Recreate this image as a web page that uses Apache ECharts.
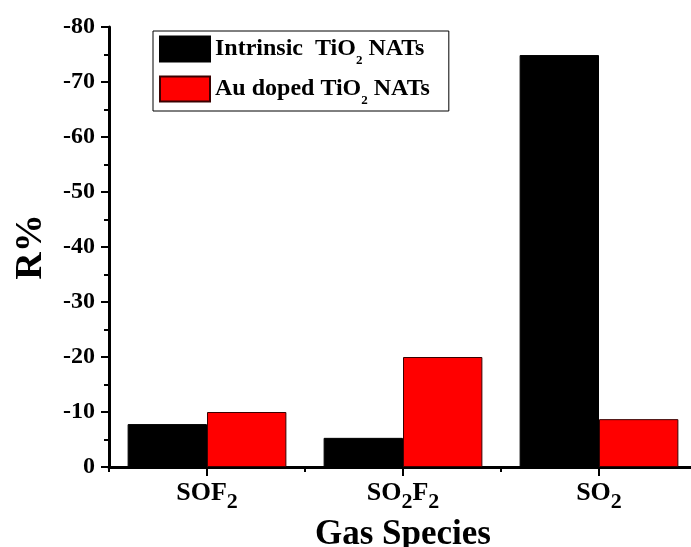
<!DOCTYPE html>
<html>
<head>
<meta charset="utf-8">
<script src="https://cdn.jsdelivr.net/npm/echarts@6/dist/echarts.min.js"></script>
<style>
  html, body { margin: 0; padding: 0; background: #fff; }
  #chart { width: 691px; height: 547px; }
</style>
</head>
<body>
<div id="chart"></div>
<script>
// gas species (rich-text labels give the subscripts)
var categories = ["SOF2", "SO2F2", "SO2"];
var categoryLabels = ["SOF{sub|2}", "SO{sub|2}F{sub|2}", "SO{sub|2}"];
var seriesNames = ["Intrinsic  TiO2 NATs", "Au doped TiO2 NATs"];
var legendLabels = ["Intrinsic  TiO{sub|2} NATs", "Au doped TiO{sub|2} NATs"];
var intrinsic = [-7.8, -5.3, -74.9];
var auDoped = [-10.0, -20.0, -8.7];
var yTicks = { min: -80, max: 0, interval: 10 };

var font = "'Liberation Serif', 'Times New Roman', serif";
var chart = echarts.init(document.getElementById("chart"));

chart.setOption({
  animation: false,
  grid: {
    left: 109,
    right: -6,
    top: 27,
    bottom: 80,
    outerBoundsMode: "none"
  },
  legend: {
    left: 153,
    top: 31,
    orient: "vertical",
    data: seriesNames,
    itemWidth: 50,
    itemHeight: 25,
    itemGap: 4,
    padding: [0, 19, 4, 6],
    borderColor: "#000",
    borderWidth: 1,
    borderRadius: 0,
    icon: "rect",
    formatter: function (name) {
      return legendLabels[seriesNames.indexOf(name)];
    },
    textStyle: {
      fontFamily: font,
      fontWeight: "bold",
      fontSize: 24,
      color: "#000",
      lineHeight: 25,
      rich: {
        sub: {
          fontFamily: font,
          fontWeight: "bold",
          fontSize: 13,
          lineHeight: 36,
          verticalAlign: "bottom"
        }
      }
    }
  },
  xAxis: [
    {
      type: "category",
      data: categories,
      name: "Gas Species",
      nameLocation: "middle",
      nameGap: 41,
      nameTextStyle: {
        fontFamily: font,
        fontWeight: "bold",
        fontSize: 35,
        color: "#000"
      },
      axisLine: { show: true, lineStyle: { color: "#000", width: 3 } },
      axisTick: {
        show: true,
        alignWithLabel: true,
        length: 9,
        lineStyle: { color: "#000", width: 2 }
      },
      axisLabel: {
        show: true,
        interval: 0,
        hideOverlap: false,
        margin: 6,
        formatter: function (v, i) { return categoryLabels[i]; },
        fontFamily: font,
        fontWeight: "bold",
        fontSize: 26,
        color: "#000",
        lineHeight: 25,
        rich: {
          sub: {
            fontFamily: font,
            fontWeight: "bold",
            fontSize: 22,
            lineHeight: 40,
            verticalAlign: "bottom"
          }
        }
      },
      splitLine: { show: false }
    },
    {
      type: "category",
      data: categories,
      position: "bottom",
      axisLine: { show: false },
      axisTick: { show: true, length: 5, lineStyle: { color: "#000", width: 2 } },
      axisLabel: { show: false },
      splitLine: { show: false }
    }
  ],
  yAxis: {
    type: "value",
    inverse: true,
    min: yTicks.min,
    max: yTicks.max,
    interval: yTicks.interval,
    name: "R%",
    nameLocation: "middle",
    nameGap: 59,
    nameTextStyle: {
      fontFamily: font,
      fontWeight: "bold",
      fontSize: 38,
      color: "#000"
    },
    axisLine: { show: true, lineStyle: { color: "#000", width: 3 } },
    axisTick: { show: true, length: 8, lineStyle: { color: "#000", width: 2 } },
    minorTick: { show: true, splitNumber: 2, length: 5, lineStyle: { color: "#000", width: 2 } },
    axisLabel: {
      margin: 14,
      fontFamily: font,
      fontWeight: "bold",
      fontSize: 24,
      color: "#000"
    },
    splitLine: { show: false }
  },
  series: [
    {
      name: seriesNames[0],
      type: "bar",
      data: intrinsic,
      barGap: "0%",
      barCategoryGap: "19%",
      itemStyle: { color: "#000", borderColor: "#000", borderWidth: 1 }
    },
    {
      name: seriesNames[1],
      type: "bar",
      data: auDoped,
      barGap: "0%",
      barCategoryGap: "19%",
      itemStyle: { color: "#ff0000", borderColor: "#3a0000", borderWidth: 1 }
    }
  ]
});
</script>
</body>
</html>
